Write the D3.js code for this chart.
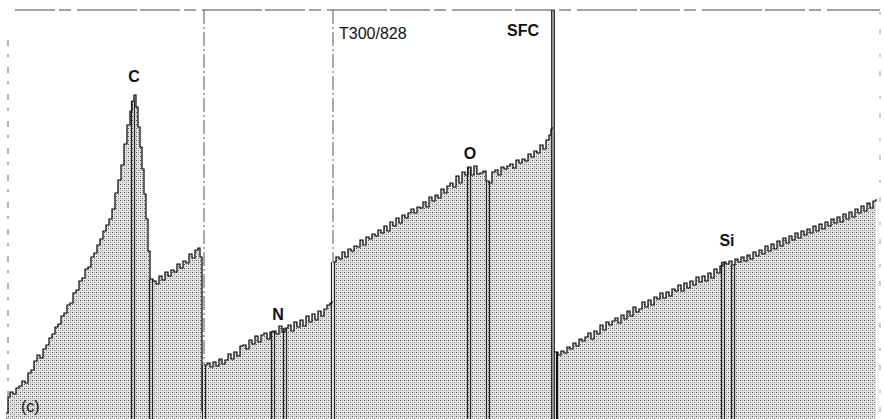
<!DOCTYPE html>
<html>
<head>
<meta charset="utf-8">
<script src="https://cdn.jsdelivr.net/npm/d3@7"></script>
<style>
  body { margin: 0; background: #fff; }
  text { font-family: "Liberation Sans", Arial, sans-serif; fill: #111; }
</style>
</head>
<body>
<div id="chart"></div>
<script>
// channel positions and counts, one pair of arrays per window
var p1x = [6,8,10,13,16,19,22,25,28,31,34,37,40,43,46,49,52,55,58,61,64,67,70,73,76,79,82,85,88,91,94,97,100,103,106,109,112,115,118,121,124,127,130,132,134,136,138,140,142,144,146,148,150,153,156,159,162,165,168,171,174,177,180,183,186,189,192,195,198,200,202]
var p1y = [6,22,27,25,31,33,38,36,46,49,58,64,61,70,74,81,85,92,95,103,106,114,116,126,129,138,141,150,152,162,166,174,180,188,194,200,210,226,239,254,275,294,308,318,324,312,292,272,250,225,200,168,140,138,135,143,139,147,143,149,147,155,151,158,156,165,161,169,171,162,8]
var p2x = [204,207,210,213,216,219,222,225,228,231,234,237,240,243,246,249,252,255,258,261,264,267,270,273,276,279,282,285,288,291,294,297,300,303,306,309,312,315,318,321,324,327,330,332]
var p2y = [54,56,52,57,53,60,55,59,65,60,67,63,73,74,70,79,75,83,77,84,86,80,87,88,85,93,87,91,94,88,97,92,99,93,103,97,105,99,108,103,110,114,116,118]
var p3x = [333,336,339,342,345,348,351,354,357,360,363,366,369,372,375,378,381,384,387,390,393,396,399,402,405,408,411,414,417,420,423,426,429,432,435,438,441,444,447,450,453,456,459,462,465,468,471,474,477,480,483,486,489,492,495,498,501,504,507,510,513,516,519,522,525,528,531,534,537,540,543,546,549,551,552]
var p3y = [157,162,160,167,162,170,168,173,172,179,174,182,180,185,183,189,186,193,188,197,193,201,196,204,201,206,210,206,212,211,217,212,222,218,224,221,230,226,233,236,232,243,236,247,244,252,244,253,245,246,248,238,236,247,249,244,252,250,253,255,251,259,256,260,258,265,262,268,266,274,270,279,284,290,292]
var p4x = [555,558,561,564,567,570,573,576,579,582,585,588,591,594,597,600,603,606,609,612,615,618,621,624,627,630,633,636,639,642,645,648,651,654,657,660,663,666,669,672,675,678,681,684,687,690,693,696,699,702,705,708,711,714,717,720,723,726,729,732,735,738,741,744,747,750,753,756,759,762,765,768,771,774,777,780,783,786,789,792,795,798,801,804,807,810,813,816,819,822,825,828,831,834,837,840,843,846,849,852,855,858,861,864,867,870,873,876]
var p4y = [67,64,68,66,72,70,76,73,80,78,82,86,80,88,85,94,89,97,94,98,101,96,104,100,108,103,112,107,110,117,112,119,114,122,120,126,121,127,123,130,128,134,128,136,131,138,134,142,137,143,138,146,141,150,146,153,157,155,158,154,160,157,162,158,164,160,167,163,169,165,173,168,175,170,178,173,181,176,183,179,186,181,188,184,190,186,193,188,195,190,197,193,200,196,202,197,205,200,207,202,210,206,213,208,216,211,218,220]

var windows = [
  { x: p1x, y: p1y },
  { x: p2x, y: p2y },
  { x: p3x, y: p3y },
  { x: p4x, y: p4y }
]

// peak marker channels and window borders
var markers = [133, 151, 273, 285, 469, 488, 723, 733]
var windowEdges = [204, 333]
var sfcEdge = 553

var peakLabels = [
  { name: "C", x: 134, y: 337 },
  { name: "N", x: 278, y: 99 },
  { name: "O", x: 470, y: 260 },
  { name: "Si", x: 727, y: 173 }
]

var width = 884, height = 419

var svg = d3.select("#chart").append("svg")
  .attr("width", width)
  .attr("height", height)

var x = d3.scaleLinear().domain([0, 884]).range([0, 884])
var y = d3.scaleLinear().domain([0, 409]).range([419, 10])

// stippled fill like the printed screen tone
var defs = svg.append("defs")
var pat = defs.append("pattern")
  .attr("id", "stipple")
  .attr("patternUnits", "userSpaceOnUse")
  .attr("width", 4).attr("height", 4)
pat.append("rect").attr("width", 4).attr("height", 4).attr("fill", "#e4e4e4")
pat.append("rect").attr("x", 0).attr("y", 0).attr("width", 1).attr("height", 1).attr("fill", "#555")
pat.append("rect").attr("x", 2).attr("y", 2).attr("width", 1).attr("height", 1).attr("fill", "#888")
pat.append("rect").attr("x", 2).attr("y", 0).attr("width", 1).attr("height", 1).attr("fill", "#aaa")
pat.append("rect").attr("x", 0).attr("y", 2).attr("width", 1).attr("height", 1).attr("fill", "#bbb")

var area = d3.area()
  .curve(d3.curveStepAfter)
  .x(function(d) { return x(d[0]) })
  .y0(y(0))
  .y1(function(d) { return y(d[1]) })

var line = d3.line()
  .curve(d3.curveStepAfter)
  .x(function(d) { return x(d[0]) })
  .y(function(d) { return y(d[1]) })

windows.forEach(function(w) {
  var pts = w.x.map(function(v, i) { return [v, w.y[i]] })
  svg.append("path").datum(pts)
    .attr("d", area)
    .attr("fill", "url(#stipple)")
  svg.append("path").datum(pts)
    .attr("d", line)
    .attr("fill", "none")
    .attr("stroke", "#000")
    .attr("stroke-width", 1.2)
})

function countAt(c) {
  for (var k = 0; k < windows.length; ++k) {
    var w = windows[k]
    if (c >= w.x[0] && c <= w.x[w.x.length - 1]) {
      var i = d3.bisectRight(w.x, c) - 1
      return w.y[Math.max(0, i)]
    }
  }
  return 0
}

// double marker lines under each peak
markers.forEach(function(m) {
  var top = y(countAt(m))
  ;[-1.5, 1.5].forEach(function(off) {
    svg.append("line")
      .attr("x1", x(m) + off).attr("x2", x(m) + off)
      .attr("y1", top).attr("y2", height)
      .attr("stroke", "#222").attr("stroke-width", 1.2)
  })
})

// frame: dashed top and left, dashed window separators
svg.append("line")
  .attr("x1", 15).attr("x2", 880).attr("y1", 10).attr("y2", 10)
  .attr("stroke", "#444").attr("stroke-width", 1)
  .attr("stroke-dasharray", "40 4 12 6 60 3")
svg.append("line")
  .attr("x1", 8).attr("x2", 8).attr("y1", 40).attr("y2", height)
  .attr("stroke", "#666").attr("stroke-width", 1)
  .attr("stroke-dasharray", "6 8 3 10")
svg.append("line")
  .attr("x1", 880).attr("x2", 880).attr("y1", 12).attr("y2", height)
  .attr("stroke", "#999").attr("stroke-width", 1)
  .attr("stroke-dasharray", "3 14 5 20")

windowEdges.forEach(function(e) {
  svg.append("line")
    .attr("x1", x(e)).attr("x2", x(e)).attr("y1", 10).attr("y2", y(countAt(e)))
    .attr("stroke", "#555").attr("stroke-width", 1)
    .attr("stroke-dasharray", "14 3 2 3")
  ;[-1.5, 1.5].forEach(function(off) {
    svg.append("line")
      .attr("x1", x(e) + off).attr("x2", x(e) + off)
      .attr("y1", y(countAt(e))).attr("y2", height)
      .attr("stroke", "#222").attr("stroke-width", 1.2)
  })
})

// SFC edge: solid from the top down
;[-1.2, 1.2].forEach(function(off) {
  svg.append("line")
    .attr("x1", x(sfcEdge) + off).attr("x2", x(sfcEdge) + off)
    .attr("y1", 10).attr("y2", height)
    .attr("stroke", "#111").attr("stroke-width", 1.3)
})
svg.append("line")
  .attr("x1", x(557)).attr("x2", x(557))
  .attr("y1", y(countAt(557))).attr("y2", height)
  .attr("stroke", "#111").attr("stroke-width", 2)

peakLabels.forEach(function(p) {
  svg.append("text")
    .attr("x", x(p.x)).attr("y", y(p.y))
    .attr("text-anchor", "middle")
    .attr("font-size", 16)
    .attr("font-weight", "bold")
    .text(p.name)
})

svg.append("text").attr("x", 339).attr("y", 39)
  .attr("font-size", 16).text("T300/828")
svg.append("text").attr("x", 507).attr("y", 36)
  .attr("font-size", 16).attr("font-weight", "bold").text("SFC")
svg.append("text").attr("x", 21).attr("y", 412)
  .attr("font-size", 16).text("(c)")
</script>
</body>
</html>
